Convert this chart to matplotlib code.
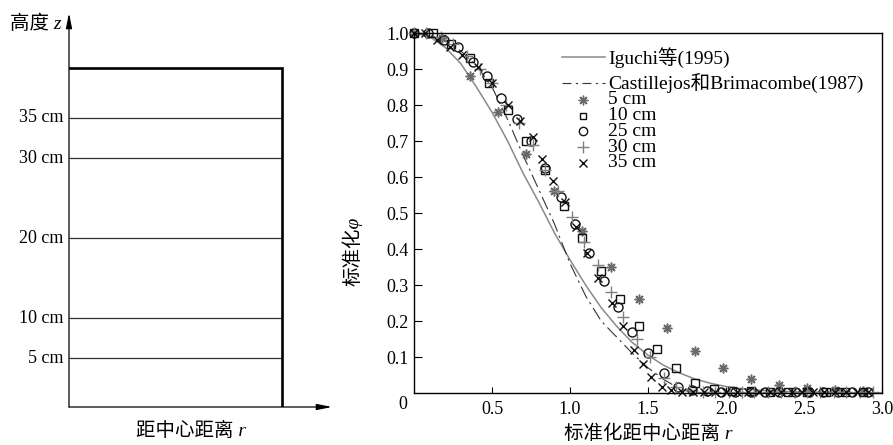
import matplotlib
matplotlib.use("Agg")
import matplotlib.pyplot as plt

plt.rcParams['font.family'] = ['Liberation Serif', 'Noto Sans CJK SC', 'DejaVu Sans']

# 左图：测量高度
levels_cm = [5, 10, 20, 30, 35]
level_labels = ['5 cm', '10 cm', '20 cm', '30 cm', '35 cm']

# 右图：理论曲线
r_iguchi = [0.0, 0.1, 0.2, 0.3, 0.4, 0.5, 0.6, 0.7, 0.8, 0.9, 1.0, 1.1, 1.2, 1.3,
            1.4, 1.5, 1.6, 1.7, 1.8, 1.9, 2.0, 2.1, 2.2, 2.4, 2.6, 2.8, 3.0]
phi_iguchi = [1.0, 0.99, 0.96, 0.915, 0.85, 0.78, 0.70, 0.61, 0.53, 0.445, 0.37, 0.30,
              0.237, 0.185, 0.14, 0.105, 0.077, 0.056, 0.039, 0.027, 0.018, 0.012,
              0.008, 0.004, 0.002, 0.001, 0.0]
r_cast = [0.0, 0.1, 0.2, 0.3, 0.4, 0.5, 0.6, 0.7, 0.8, 0.9, 1.0, 1.1, 1.2, 1.3,
          1.4, 1.5, 1.6, 1.7, 1.8]
phi_cast = [1.0, 0.995, 0.98, 0.95, 0.91, 0.85, 0.76, 0.66, 0.565, 0.47, 0.36, 0.27,
            0.20, 0.155, 0.11, 0.07, 0.038, 0.012, 0.0]

# 实验点
r5 = [0.00, 0.18, 0.36, 0.54, 0.72, 0.90, 1.08, 1.26, 1.44, 1.62, 1.80, 1.98, 2.16,
      2.34, 2.52, 2.70, 2.88]
phi5 = [1.00, 0.985, 0.88, 0.78, 0.665, 0.56, 0.45, 0.35, 0.26, 0.18, 0.117, 0.07,
        0.04, 0.022, 0.013, 0.008, 0.006]

r10 = [0.00, 0.12, 0.24, 0.36, 0.48, 0.60, 0.72, 0.84, 0.96, 1.08, 1.20, 1.32, 1.44,
       1.56, 1.68, 1.80, 1.92, 2.04, 2.16, 2.28, 2.40, 2.52, 2.64, 2.76, 2.88]
phi10 = [1.00, 1.00, 0.97, 0.93, 0.86, 0.785, 0.70, 0.62, 0.52, 0.43, 0.34, 0.26,
         0.185, 0.122, 0.07, 0.028, 0.012, 0.006, 0.005, 0.004, 0.004, 0.004, 0.004,
         0.004, 0.004]

r25 = [0.00, 0.09, 0.19, 0.28, 0.38, 0.47, 0.56, 0.66, 0.75, 0.84, 0.94, 1.03, 1.12,
       1.22, 1.31, 1.40, 1.50, 1.60, 1.69, 1.78, 1.88, 1.97, 2.06, 2.16, 2.25, 2.34,
       2.44, 2.53, 2.62, 2.72, 2.81, 2.91]
phi25 = [1.00, 1.00, 0.98, 0.96, 0.92, 0.88, 0.82, 0.76, 0.70, 0.625, 0.545, 0.47,
         0.39, 0.31, 0.24, 0.17, 0.11, 0.055, 0.017, 0.008, 0.005, 0.004, 0.004,
         0.004, 0.004, 0.004, 0.004, 0.004, 0.004, 0.004, 0.004, 0.004]

r30 = [0.00, 0.08, 0.17, 0.25, 0.34, 0.42, 0.50, 0.59, 0.67, 0.76, 0.84, 0.92, 1.01,
       1.09, 1.18, 1.26, 1.34, 1.43, 1.51, 1.60, 1.68, 1.76, 1.85, 1.93, 2.02, 2.10,
       2.18, 2.27, 2.35, 2.44, 2.52, 2.60, 2.69, 2.77, 2.86, 2.94]
phi30 = [1.00, 1.00, 0.99, 0.97, 0.935, 0.90, 0.86, 0.80, 0.75, 0.69, 0.62, 0.56,
         0.49, 0.42, 0.355, 0.28, 0.21, 0.15, 0.10, 0.042, 0.016, 0.007, 0.004,
         0.004, 0.004, 0.004, 0.004, 0.004, 0.004, 0.004, 0.004, 0.004, 0.004,
         0.004, 0.004, 0.004]

r35 = [0.00, 0.07, 0.15, 0.23, 0.31, 0.41, 0.50, 0.60, 0.68, 0.76, 0.82, 0.89, 0.97,
       1.04, 1.11, 1.18, 1.27, 1.34, 1.41, 1.47, 1.52, 1.59, 1.65, 1.72, 1.79, 1.86,
       1.93, 2.00, 2.07, 2.14, 2.21, 2.28, 2.35, 2.42, 2.49, 2.56, 2.63, 2.70, 2.77,
       2.84, 2.91]
phi35 = [1.00, 1.00, 0.98, 0.96, 0.94, 0.905, 0.86, 0.80, 0.755, 0.71, 0.65, 0.59,
         0.53, 0.46, 0.39, 0.32, 0.25, 0.185, 0.12, 0.08, 0.045, 0.017, 0.007,
         0.004, 0.004, 0.004, 0.004, 0.004, 0.004, 0.004, 0.004, 0.004, 0.004,
         0.004, 0.004, 0.004, 0.004, 0.004, 0.004, 0.004, 0.004]

fig = plt.figure(figsize=(8.93, 4.45), dpi=100)

# ---- 左图：示意图 ----
axl = fig.add_axes([69 / 893, 38 / 445, 263 / 893, 394 / 445])
axl.set_xlim(0, 1)
axl.set_ylim(-1.06, 48.1)
axl.axis('off')

tank_w, tank_h = 0.81, 41.2
for z, lab in zip(levels_cm, level_labels):
    axl.plot([0, tank_w], [z, z], color='#333333', lw=0.9, solid_capstyle='butt')
    axl.text(-0.02, z, lab, ha='right', va='center', fontsize=13)
axl.plot([0, tank_w, tank_w], [tank_h, tank_h, -1.06], color='black', lw=1.9,
         solid_joinstyle='miter')
arrow = dict(arrowstyle='-|>,head_length=0.9,head_width=0.18', color='black', lw=0.9,
             shrinkA=0, shrinkB=0)
axl.annotate('', xy=(1.0, -1.06), xytext=(0, -1.06), arrowprops=arrow,
             annotation_clip=False)
axl.annotate('', xy=(0, 48.1), xytext=(0, -1.06), arrowprops=arrow,
             annotation_clip=False)
# 斜体只作用于拉丁字母（中文字体无斜体）
axl.text(-0.03, 46.8, '高度 z', ha='right', va='center', fontsize=14, fontstyle='italic')
axl.text(0.465, -4.0, '距中心距离 r', ha='center', va='center', fontsize=14,
         fontstyle='italic')

# ---- 右图：数据 ----
ax = fig.add_axes([414 / 893, 52 / 445, 468 / 893, 360 / 445])
ax.set_xlim(0, 3.0)
ax.set_ylim(0, 1.0)

ax.plot(r_iguchi, phi_iguchi, color='#8a8a8a', lw=1.1)
ax.plot(r_cast, phi_cast, color='#333333', lw=0.8, linestyle=(0, (12, 4, 2, 4)))

mk = dict(linestyle='none', clip_on=False)
ax.plot(r5, phi5, marker=(8, 2, 0), ms=7, mew=1.1, color='#6a6a6a', **mk)
ax.plot(r10, phi10, marker='s', ms=5.5, mew=1.0, mfc='none', color='#111111', **mk)
ax.plot(r25, phi25, marker='o', ms=6.5, mew=1.0, mfc='none', color='#111111', **mk)
ax.plot(r30, phi30, marker='+', ms=8, mew=1.0, color='#808080', **mk)
ax.plot(r35, phi35, marker='x', ms=6, mew=1.0, color='#111111', **mk)

ax.set_xticks([0.5, 1.0, 1.5, 2.0, 2.5, 3.0])
ax.set_xticklabels(['0.5', '1.0', '1.5', '2.0', '2.5', '3.0'])
ax.set_yticks([0.1, 0.2, 0.3, 0.4, 0.5, 0.6, 0.7, 0.8, 0.9, 1.0])
ax.set_yticklabels(['0.1', '0.2', '0.3', '0.4', '0.5', '0.6', '0.7', '0.8', '0.9', '1.0'])
ax.tick_params(axis='x', direction='in', length=4, width=0.8, pad=6, labelsize=13)
ax.tick_params(axis='y', direction='in', length=6, width=0.8, pad=4, labelsize=13)
for s in ax.spines.values():
    s.set_linewidth(1.0)
ax.text(-0.024, -0.033, '0', transform=ax.transAxes, ha='center', va='center',
        fontsize=13)

ax.text(-0.132, 0.394, '标准化φ', transform=ax.transAxes, rotation=90, ha='center',
        va='center', fontsize=14, fontstyle='italic')
ax.text(0.5, -0.114, '标准化距中心距离 r', transform=ax.transAxes, ha='center',
        va='center', fontsize=14, fontstyle='italic')

# 图例
tx = 0.4145
ax.plot([0.316, 0.408], [0.933, 0.933], transform=ax.transAxes, color='#8a8a8a', lw=1.1)
ax.text(tx, 0.933, 'Iguchi等(1995)', transform=ax.transAxes, va='center', fontsize=14)
ax.plot([0.316, 0.408], [0.861, 0.861], transform=ax.transAxes, color='#333333', lw=0.8,
        linestyle=(0, (8, 4, 2, 4)))
ax.text(tx, 0.861, 'Castillejos和Brimacombe(1987)', transform=ax.transAxes, va='center',
        fontsize=14)
leg_rows = [((8, 2, 0), '#6a6a6a', 'full', 7, '5 cm'),
            ('s', '#111111', 'none', 5, '10 cm'),
            ('o', '#111111', 'none', 6, '25 cm'),
            ('+', '#808080', 'full', 8, '30 cm'),
            ('x', '#111111', 'full', 6, '35 cm')]
for i, (m, c, fill, size, lab) in enumerate(leg_rows):
    yy = 0.814 - 0.0437 * i
    ax.plot([0.361], [yy], transform=ax.transAxes, marker=m, color=c, ms=size, mew=1.0,
            fillstyle=fill, linestyle='none')
    ax.text(tx, yy, lab, transform=ax.transAxes, va='center', fontsize=14)

fig.savefig('out.png', dpi=100, facecolor='white')
